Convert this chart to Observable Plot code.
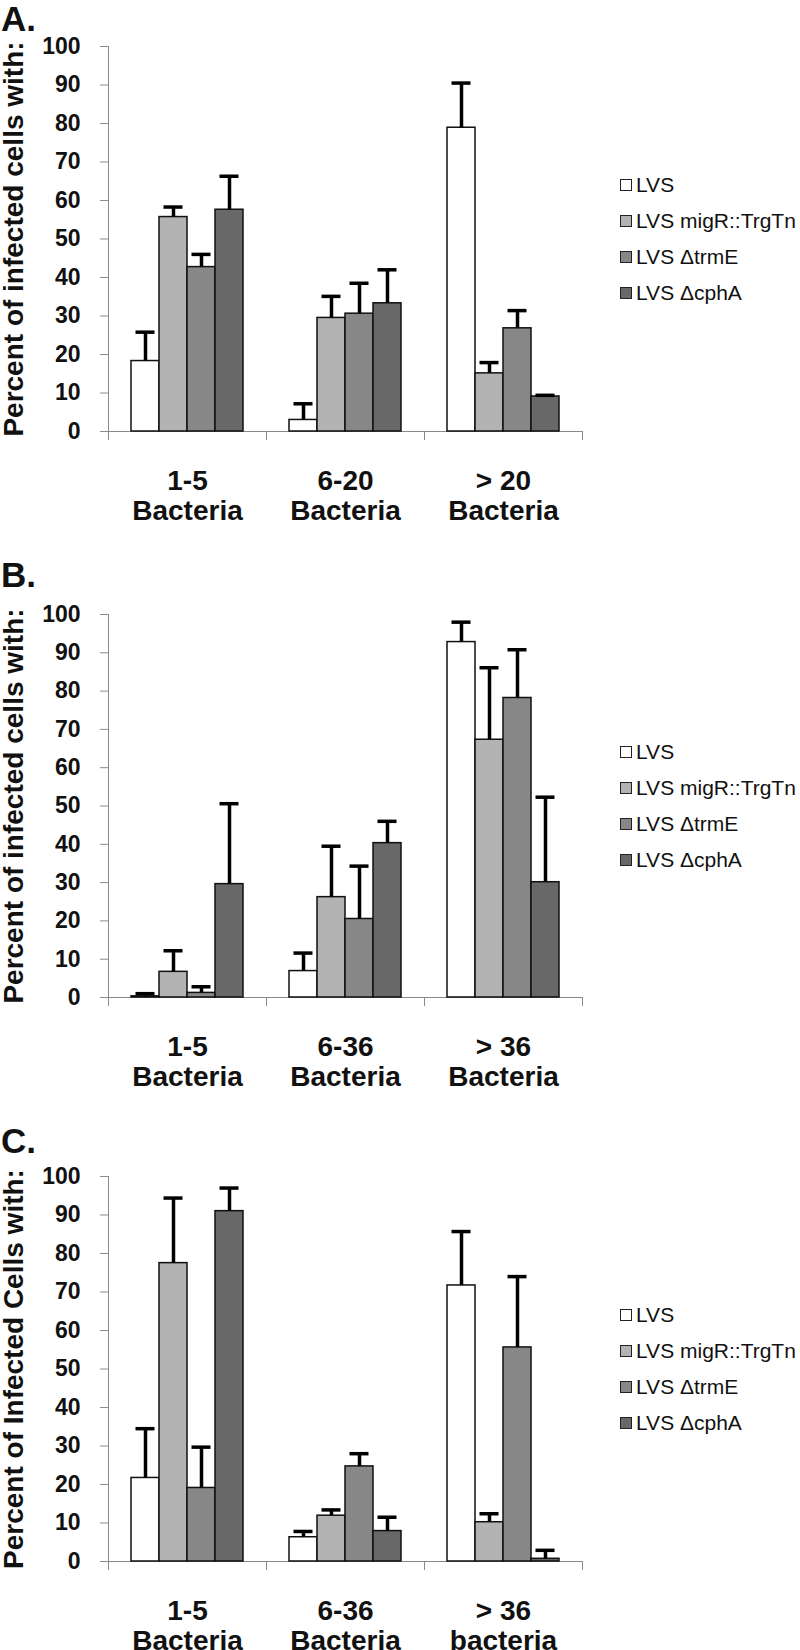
<!DOCTYPE html>
<html><head><meta charset="utf-8">
<script src="https://cdn.jsdelivr.net/npm/d3@7"></script>
<script src="https://cdn.jsdelivr.net/npm/@observablehq/plot@0.6"></script>
<style>
body{margin:0;background:#fff;font-family:"Liberation Sans",Arial,sans-serif;}
#page{position:relative;width:800px;height:1650px;overflow:hidden;}
.panel-label{position:absolute;left:1px;font-size:35px;font-weight:bold;line-height:34px;color:#111;}
.plot{position:absolute;left:0;}
.ylab{position:absolute;height:28px;line-height:28px;font-size:28px;font-weight:bold;text-align:center;white-space:nowrap;transform:rotate(-90deg);transform-origin:50% 50%;color:#111;}
.legend{position:absolute;left:620px;font-size:21px;color:#111;}
.legend .row{display:flex;align-items:center;height:36px;white-space:nowrap;}
.legend .sw{width:12px;height:12px;box-sizing:border-box;border:1.5px solid #222;margin-right:4px;flex:none;}
</style></head>
<body><div id="page"></div>
<script>
// ---- data ----
const series = ["LVS", "LVS migR::TrgTn", "LVS ΔtrmE", "LVS ΔcphA"];
const seriesColors = ["#ffffff", "#b3b3b3", "#878787", "#686868"];
const yTicks = [0, 10, 20, 30, 40, 50, 60, 70, 80, 90, 100];

const catsA = ["1-5\nBacteria", "6-20\nBacteria", "> 20\nBacteria"];
const meanA = [[18.3, 55.7, 42.7, 57.6], [3.0, 29.5, 30.6, 33.3], [78.9, 15.1, 26.8, 9.1]];
const errA  = [[7.5, 2.6, 3.3, 8.7], [4.2, 5.6, 7.9, 8.7], [11.6, 2.8, 4.6, 0.3]];
const yLabelA = "Percent of infected cells with:";

const catsB = ["1-5\nBacteria", "6-36\nBacteria", "> 36\nBacteria"];
const meanB = [[0.3, 6.7, 1.2, 29.6], [6.9, 26.2, 20.5, 40.3], [92.8, 67.3, 78.2, 30.1]];
const errB  = [[0.7, 5.5, 1.6, 21.0], [4.7, 13.3, 13.8, 5.7], [5.2, 18.8, 12.6, 22.2]];
const yLabelB = "Percent of infected cells with:";

const catsC = ["1-5\nBacteria", "6-36\nBacteria", "> 36\nbacteria"];
const meanC = [[21.7, 77.5, 19.1, 91.0], [6.3, 11.9, 24.7, 7.9], [71.7, 10.2, 55.6, 0.7]];
const errC  = [[12.8, 16.9, 10.6, 6.0], [1.5, 1.5, 3.3, 3.6], [14.0, 2.2, 18.4, 2.2]];
const yLabelC = "Percent of Infected Cells with:";

// ---- layout (separate from data) ----
const panels = [
  {name: "A.", cats: catsA, mean: meanA, err: errA, yLabel: yLabelA, y100: 46, innerH: 385, labelTop: 2, legendTop: 167},
  {name: "B.", cats: catsB, mean: meanB, err: errB, yLabel: yLabelB, y100: 614, innerH: 383, labelTop: 558, legendTop: 734},
  {name: "C.", cats: catsC, mean: meanC, err: errC, yLabel: yLabelC, y100: 1176, innerH: 385, labelTop: 1124, legendTop: 1297}
];

const page = document.getElementById("page");
const gray = "#8a8a8a";
const mt = 20, mb = 100;

for (const p of panels) {
  const rows = [];
  p.cats.forEach((c, i) => series.forEach((s, j) => {
    rows.push({cat: c, series: s, mean: p.mean[i][j], hi: p.mean[i][j] + p.err[i][j]});
  }));

  const chart = Plot.plot({
    width: 800,
    height: mt + p.innerH + mb,
    marginLeft: 107, marginRight: 217, marginTop: mt, marginBottom: mb,
    style: {fontFamily: '"Liberation Sans", Arial, sans-serif', background: "transparent", overflow: "visible", color: "#111"},
    fx: {domain: p.cats, padding: 0, axis: null},
    x: {domain: series, paddingInner: 0, paddingOuter: 0.745, axis: null},
    y: {domain: [0, 100], axis: null},
    color: {domain: series, range: seriesColors},
    marks: [
      Plot.axisY({ticks: yTicks, tickSize: 8, tickPadding: 20, stroke: gray, fontSize: 23, fontWeight: "bold", label: null}),
      Plot.frame({anchor: "left", facetAnchor: "left", stroke: gray}),
      Plot.frame({anchor: "left", insetTop: p.innerH, insetBottom: -8, stroke: gray}),
      Plot.frame({anchor: "right", insetTop: p.innerH, insetBottom: -8, stroke: gray}),
      Plot.ruleY([0], {stroke: gray}),
      Plot.barY(rows, {fx: "cat", x: "series", y: "mean", fill: "series", stroke: "#111", strokeWidth: 1.5}),
      Plot.ruleX(rows, {fx: "cat", x: "series", y1: "mean", y2: "hi", stroke: "#000", strokeWidth: 3.5}),
      Plot.tickY(rows, {fx: "cat", x: "series", y: "hi", stroke: "#000", strokeWidth: 3.5, insetLeft: 4.5, insetRight: 4.5}),
      Plot.axisFx({anchor: "bottom", tickSize: 0, tickPadding: 37, fontSize: 28, fontWeight: "bold", lineHeight: 1.08, label: null})
    ]
  });
  chart.classList.add("plot");
  chart.style.top = (p.y100 - mt) + "px";
  page.appendChild(chart);

  const lab = document.createElement("div");
  lab.className = "panel-label";
  lab.style.top = p.labelTop + "px";
  lab.textContent = p.name;
  page.appendChild(lab);

  const yl = document.createElement("div");
  yl.className = "ylab";
  const L = 440;
  yl.style.width = L + "px";
  yl.style.left = (14 - L / 2) + "px";
  yl.style.top = (p.y100 + p.innerH / 2 - 14) + "px";
  yl.textContent = p.yLabel;
  page.appendChild(yl);

  const leg = document.createElement("div");
  leg.className = "legend";
  leg.style.top = p.legendTop + "px";
  series.forEach((s, j) => {
    const r = document.createElement("div");
    r.className = "row";
    const sw = document.createElement("span");
    sw.className = "sw";
    sw.style.background = seriesColors[j];
    const t = document.createElement("span");
    t.textContent = s;
    r.appendChild(sw); r.appendChild(t);
    leg.appendChild(r);
  });
  page.appendChild(leg);
}
</script>
</body></html>
